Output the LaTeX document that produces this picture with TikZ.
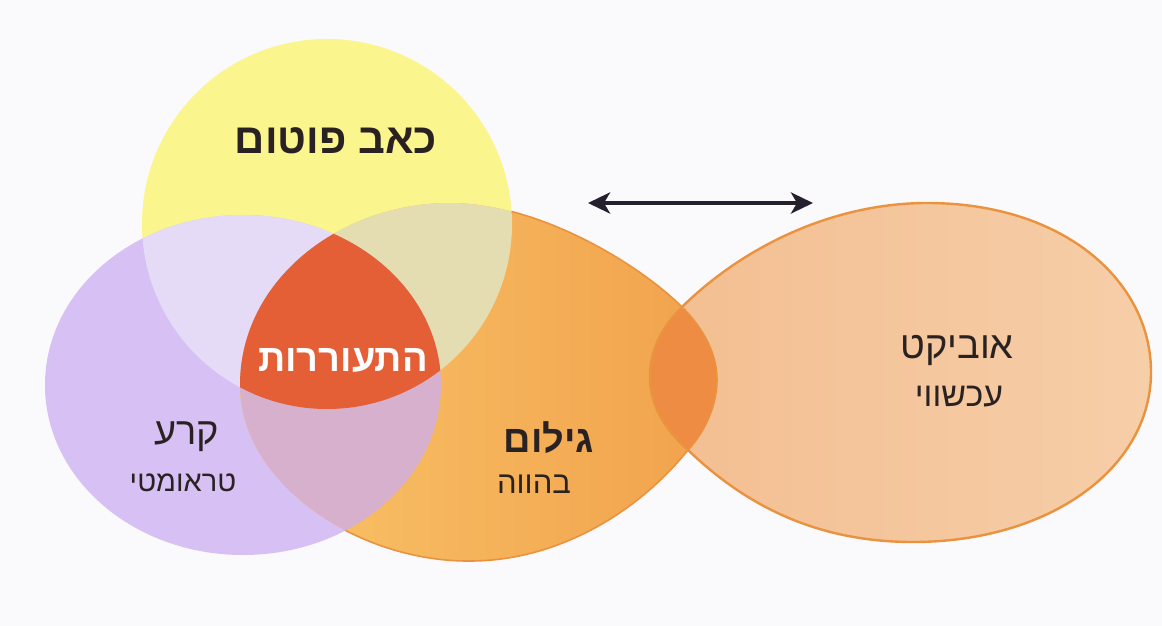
\documentclass[tikz,border=0pt]{standalone}
\usepackage{fontspec}
\setmainfont{Liberation Sans}
\newfontfamily\hebfont[Script=Hebrew]{Liberation Sans}
\TeXXeTstate=1
\usetikzlibrary{arrows.meta}
\definecolor{bgc}{RGB}{250,249,251}
\definecolor{yel}{RGB}{250,245,140}
\definecolor{pur}{RGB}{214,192,244}
\definecolor{lav}{RGB}{230,219,246}
\definecolor{orL}{RGB}{249,196,104}
\definecolor{orR}{RGB}{241,162,76}
\definecolor{beige}{RGB}{229,221,178}
\definecolor{mauve}{RGB}{214,176,204}
\definecolor{redc}{RGB}{228,94,54}
\definecolor{peach}{RGB}{246,206,168}
\definecolor{peachL}{RGB}{243,190,145}
\definecolor{lens}{RGB}{238,140,68}
\definecolor{oedge}{RGB}{234,146,62}
\definecolor{txt}{RGB}{42,34,34}
\definecolor{arr}{RGB}{36,32,46}
\def\yellowpath{(327,224) circle (185)}
\def\purplepath{(243,385) ellipse (198 and 170)}
\def\orangepath{(450,203) .. controls (540,203) and (640,265) .. (682,307) .. controls (705,330) and (717,355) .. (717,380) .. controls (717,405) and (705,432) .. (688,450) .. controls (640,510) and (560,561) .. (470,561) .. controls (360,562) and (240,485) .. (240,385) .. controls (240,280) and (340,203) .. (450,203) -- cycle}
\def\eggpath{(650,377) .. controls (650,350) and (662,327) .. (682,307) .. controls (745,245) and (835,203) .. (927,203) .. controls (1065,203) and (1151,282) .. (1151,372) .. controls (1151,468) and (1050,542) .. (913,542) .. controls (810,542) and (740,500) .. (688,450) .. controls (660,425) and (650,400) .. (650,377) -- cycle}
\tikzset{
  lbl/.style={text=txt, inner sep=0pt},
  titlefont/.style={font=\hebfont\fontsize{42}{44}\selectfont\bfseries},
  mainfont/.style={font=\hebfont\fontsize{38}{40}\selectfont},
  mainbold/.style={font=\hebfont\fontsize{38}{40}\selectfont\bfseries},
  subfont/.style={font=\hebfont\fontsize{29}{31}\selectfont},
}
\begin{document}
\begin{tikzpicture}[x=1pt,y=-1pt]
\useasboundingbox (0,0) rectangle (1162,626);
\fill[bgc] (0,0) rectangle (1162,626);
% base shapes
\fill[yel] \yellowpath;
\fill[pur] \purplepath;
\shade[left color=orL, right color=orR] \orangepath;
% overlaps
\begin{scope}
  \clip \yellowpath;
  \fill[lav] \purplepath;
  \fill[beige] \orangepath;
\end{scope}
\begin{scope}
  \clip \purplepath;
  \fill[mauve] \orangepath;
\end{scope}
\begin{scope}
  \clip \yellowpath;
  \clip \purplepath;
  \fill[redc] \orangepath;
\end{scope}
% egg
\shade[left color=peachL, right color=peach] \eggpath;
\begin{scope}
  \clip \eggpath;
  \fill[lens] \orangepath;
\end{scope}
% outlines
\begin{scope}[even odd rule]
  \clip (0,0) rectangle (1162,626) \yellowpath;
  \begin{scope}
    \clip (0,0) rectangle (1162,626) \purplepath;
    \draw[oedge, line width=1.6pt] \orangepath;
  \end{scope}
\end{scope}
\draw[oedge, line width=2.4pt] \eggpath;
% arrow
\coordinate (al) at (588,203);
\coordinate (ar) at (813,203);
\draw[arr, line width=4pt, {Stealth[length=22pt,width=21pt,inset=6pt]}-{Stealth[length=22pt,width=21pt,inset=6pt]}] (al) -- (ar);
% labels
\node[lbl, titlefont] (pain) at (336,141) {\beginR כאב פוטום\endR};
\node[lbl, mainbold, text=white] (awake) at (343,360) {\beginR התעוררות\endR};
\node[lbl, mainfont] (tear) at (187,437) {\beginR קרע\endR};
\node[lbl, subfont] (traum) at (183,483) {\beginR טראומטי\endR};
\node[lbl, mainbold] (embod) at (549,438) {\beginR גילום\endR};
\node[lbl, subfont, font=\hebfont\fontsize{31}{33}\selectfont] (now) at (534,484) {\beginR בהווה\endR};
\node[lbl, mainfont] (obj) at (957,350) {\beginR אוביקט\endR};
\node[lbl, subfont, font=\hebfont\fontsize{34}{36}\selectfont] (cur) at (959,397) {\beginR עכשווי\endR};
\end{tikzpicture}
\end{document}
